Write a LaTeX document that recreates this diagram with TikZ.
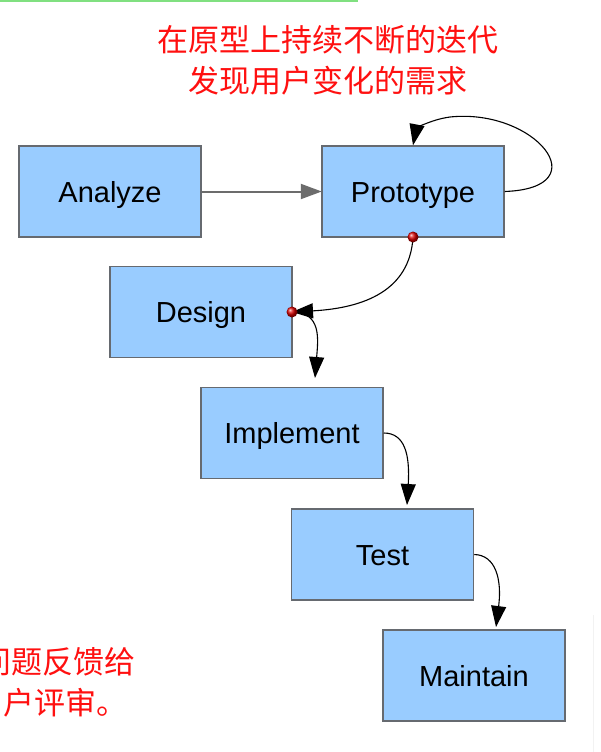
\documentclass[tikz,border=0pt]{standalone}
\usepackage{fontspec}
\setmainfont{Liberation Sans}
\newfontfamily\cjk{Noto Sans CJK SC}
\usetikzlibrary{arrows.meta,shadings}
\definecolor{boxfill}{HTML}{99CCFF}
\definecolor{boxline}{HTML}{666A70}
\definecolor{redtxt}{HTML}{FF1010}
\definecolor{topgreen}{HTML}{80E080}
\tikzset{
  stage/.style={draw=boxline, line width=1.5pt, fill=boxfill, minimum width=182pt, minimum height=91pt,
    inner sep=0pt, text height=21.5pt, text depth=0pt, font=\fontsize{29}{30}\selectfont},
  flow/.style={draw=black, line width=1.1pt, -{Triangle[length=21pt,width=15pt]}},
  cjktext/.style={text=redtxt, inner sep=0pt, font=\cjk\fontsize{31}{32}\selectfont},
  dot/.style={circle, inner sep=0pt, minimum size=11pt, ball color=red!85!black}
}
\begin{document}
\begin{tikzpicture}[x=1pt,y=-1pt]
\useasboundingbox (0,0) rectangle (601,752);
\clip (0,0) rectangle (601,752);
\fill[white] (0,0) rectangle (601,752);
\fill[topgreen] (0,0) rectangle (358,2);
\draw[gray!10, line width=1pt] (593,615) -- (593,752);

\node[stage] (an) at (110,191.5) {Analyze};
\node[stage] (pr) at (413,191.5) {Prototype};
\node[stage] (de) at (201,312) {Design};
\node[stage] (im) at (292,433) {Implement};
\node[stage] (te) at (382.5,554.5) {Test};
\node[stage] (ma) at (474,675.5) {Maintain};

\node[cjktext] (t1) at (327.5,40) {在原型上持续不断的迭代};
\node[cjktext] (t2) at (327.5,81) {发现用户变化的需求};
\node[cjktext, anchor=west] (t3) at (-20,662) {问题反馈给};
\node[cjktext, anchor=west] (t4) at (3,703) {户评审。};

\coordinate (pbot) at (413,237);
\coordinate (dright) at (292,312);
\coordinate (imtop) at (315,378);
\coordinate (tetop) at (407,505);
\coordinate (matop) at (496,627);

\draw[draw=gray!85!black, line width=2pt, -{Triangle[length=21pt,width=15pt]}, shorten >=-0.5pt] (an.east) -- (pr.west);
\draw[flow] (pr.east) .. controls (600,188) and (535,108) .. (450,117) .. controls (428,120) and (416,130) .. (pr.north);
\draw[flow] (pbot) .. controls (410,290) and (365,308) .. (dright);
\draw[flow] (dright) .. controls (322,312) and (318,340) .. (imtop);
\draw[flow] (im.east) .. controls (405,433) and (410,455) .. (tetop);
\draw[flow] (te.east) .. controls (496,555) and (502,580) .. (matop);

\node[dot] (d1) at (pbot) {};
\node[dot] (d2) at (dright) {};
\end{tikzpicture}
\end{document}
